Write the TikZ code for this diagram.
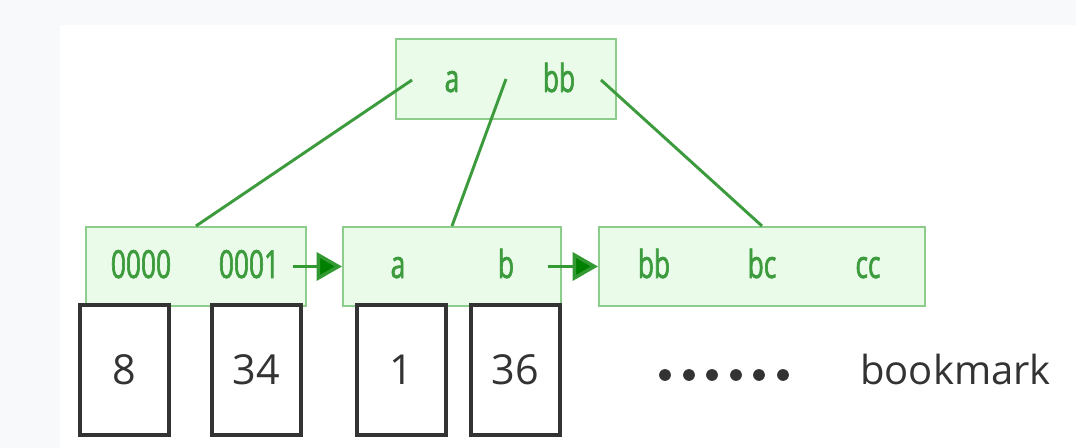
\documentclass[tikz,border=0pt]{standalone}
\usepackage{fontspec}
\setmainfont{Open Sans}
\newfontfamily\keyfont[FakeStretch=0.68,FakeBold=1.6]{Open Sans}
\usetikzlibrary{positioning,calc}
\usetikzlibrary{arrows.meta}
\definecolor{PageGray}{RGB}{248,249,250}
\definecolor{LeafFill}{RGB}{234,251,234}
\definecolor{LeafLine}{RGB}{140,205,140}
\definecolor{TreeGreen}{RGB}{60,155,60}
\definecolor{LinkGreen}{RGB}{0,128,0}
\definecolor{InkGray}{RGB}{51,51,51}
\tikzset{
	page/.style={draw=LeafLine,fill=LeafFill,line width=1.5pt,inner sep=0pt,minimum height=59.25pt},
	key/.style={font=\keyfont\fontsize{29}{30}\selectfont,text=TreeGreen,anchor=base,inner sep=0pt},
	ptr/.style={draw=TreeGreen,line width=2.2pt},
	link/.style={draw=LinkGreen!80!white,line width=2.6pt,-{Triangle[length=19pt,width=21pt,fill=LinkGreen]}},
	row/.style={draw=InkGray,line width=3pt,fill=white,minimum width=66.75pt,minimum height=97.5pt,inner sep=0pt},
	num/.style={font=\fontsize{31}{32}\selectfont,text=InkGray,anchor=base,inner sep=0pt},
	dot/.style={circle,fill=InkGray,inner sep=0pt,minimum size=8.8pt},
}
\begin{document}
\begin{tikzpicture}[x=0.75pt,y=-0.75pt]
	\fill[PageGray] (0,0) rectangle (1076,448);
	\fill[white] (60,25) rectangle (1076,448);
	\useasboundingbox (0,0) rectangle (1076,448);

	\node[page,minimum width=165pt,minimum height=60pt] (root) at (506,79) {};
	\node[page,minimum width=165pt] (leafL) at (196,266.5) {};
	\node[page,minimum width=163.5pt] (leafM) at (452,266.5) {};
	\node[page,minimum width=244.5pt] (leafR) at (762,266.5) {};

	\node[key] (r-a) at (452,92) {a};
	\node[key] (r-bb) at (559,92) {bb};
	\node[key] (l-0000) at (141,278) {0000};
	\node[key] (l-0001) at (249,278) {0001};
	\node[key] (m-a) at (398,278) {a};
	\node[key] (m-b) at (506,278) {b};
	\node[key] (r-bb2) at (654,278) {bb};
	\node[key] (r-bc) at (762,278) {bc};
	\node[key] (r-cc) at (868,278) {cc};

	\coordinate (p1) at ($(root.west)+(17,1)$);
	\coordinate (p2) at (root.center);
	\coordinate (p3) at ($(root.east)+(-16,1)$);
	\draw[ptr] (p1) -- (leafL.north);
	\draw[ptr] (p2) -- (leafM.north);
	\draw[ptr] (p3) -- (leafR.north);

	\coordinate (n1) at ($(leafL.east)+(-14,0)$);
	\coordinate (n2) at ($(leafM.east)+(-14,0)$);
	\draw[link] (n1) -- (leafM.west);
	\draw[link] (n2) -- (leafR.west);

	\node[row] (b8) at (124.5,370) {};
	\node[row] (b34) at (256.5,370) {};
	\node[row] (b1) at (401,370) {};
	\node[row] (b36) at (515,370) {};
	\node[num] at ($(b8)+(0,15)$) {8};
	\node[num] at ($(b34)+(0,15)$) {34};
	\node[num] at ($(b1)+(0,15)$) {1};
	\node[num] at ($(b36)+(0,15)$) {36};

	\foreach \x [count=\i] in {665,689,712,736,759,783}
		\node[dot] (dot\i) at (\x,375) {};
	\node[num,font=\fontsize{30}{31}\selectfont,anchor=base west] (mark) at (860,385) {bookmark};
\end{tikzpicture}
\end{document}
